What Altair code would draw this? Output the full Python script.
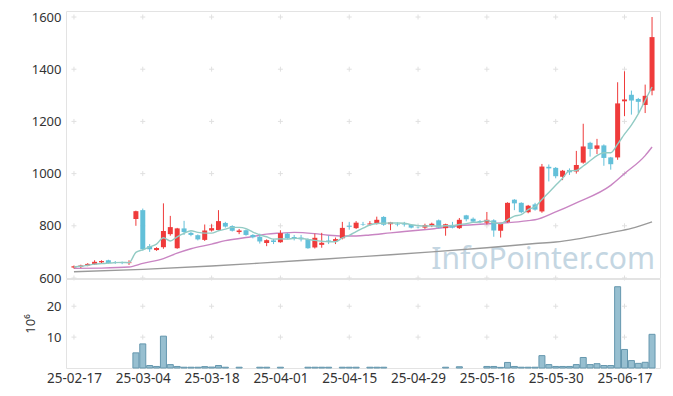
import json
import altair as alt
import pandas as pd

# ---- data ----
dates = [
    "2025-02-17", "2025-02-18", "2025-02-19", "2025-02-20", "2025-02-21",
    "2025-02-24", "2025-02-25", "2025-02-26", "2025-02-27", "2025-02-28",
    "2025-03-04", "2025-03-05", "2025-03-06", "2025-03-07", "2025-03-10",
    "2025-03-11", "2025-03-12", "2025-03-13", "2025-03-14", "2025-03-17",
    "2025-03-18", "2025-03-19", "2025-03-20", "2025-03-21", "2025-03-24",
    "2025-03-25", "2025-03-26", "2025-03-27", "2025-03-28", "2025-03-31",
    "2025-04-01", "2025-04-02", "2025-04-03", "2025-04-04", "2025-04-07",
    "2025-04-08", "2025-04-09", "2025-04-10", "2025-04-11", "2025-04-14",
    "2025-04-15", "2025-04-16", "2025-04-17", "2025-04-18", "2025-04-21",
    "2025-04-22", "2025-04-23", "2025-04-24", "2025-04-25", "2025-04-28",
    "2025-04-29", "2025-04-30", "2025-05-02", "2025-05-07", "2025-05-08",
    "2025-05-09", "2025-05-12", "2025-05-13", "2025-05-14", "2025-05-15",
    "2025-05-16", "2025-05-19", "2025-05-20", "2025-05-21", "2025-05-22",
    "2025-05-23", "2025-05-26", "2025-05-27", "2025-05-28", "2025-05-29",
    "2025-05-30", "2025-06-02", "2025-06-04", "2025-06-05", "2025-06-09",
    "2025-06-10", "2025-06-11", "2025-06-12", "2025-06-13", "2025-06-16",
    "2025-06-17", "2025-06-18", "2025-06-19", "2025-06-20", "2025-06-23",
]
opens = [640, 643, 648, 652, 660, 668, 661, 659, 657, 826,
         860, 722, 707, 718, 768, 714, 790, 773, 764, 746,
         782, 784, 811, 799, 776, 783, 765, 758, 734, 744,
         737, 770, 757, 755, 749, 717, 727, 744, 742, 752,
         800, 791, 806, 805, 810, 834, 806, 806, 806, 803,
         793, 793, 801, 821, 791, 803, 791, 840, 827, 818,
         812, 821, 781, 815, 900, 888, 852, 882, 855, 1026,
         1022, 988, 1014, 1008, 1042, 1118, 1095, 1108, 1062, 1062,
         1277, 1302, 1286, 1263, 1318]
highs = [648, 651, 657, 668, 668, 670, 665, 663, 668, 858,
         866, 730, 718, 886, 838, 792, 819, 778, 767, 805,
         806, 860, 815, 802, 788, 786, 768, 770, 748, 750,
         783, 773, 765, 765, 752, 770, 773, 762, 755, 815,
         815, 818, 815, 818, 835, 837, 815, 813, 815, 806,
         797, 808, 812, 824, 808, 815, 830, 842, 832, 822,
         853, 825, 808, 890, 902, 890, 880, 888, 1037, 1035,
         1025, 1014, 1020, 1087, 1191, 1122, 1133, 1112, 1064, 1350,
         1392, 1318, 1290, 1341, 1600]
lows = [636, 638, 645, 650, 657, 655, 654, 653, 650, 800,
        705, 700, 704, 712, 762, 712, 765, 760, 744, 742,
        778, 780, 793, 778, 768, 762, 752, 732, 722, 730,
        735, 748, 744, 740, 712, 713, 716, 730, 730, 748,
        785, 788, 800, 800, 805, 800, 783, 798, 797, 790,
        790, 788, 795, 790, 762, 790, 788, 817, 812, 810,
        805, 758, 755, 812, 860, 848, 848, 858, 850, 970,
        982, 975, 995, 1000, 1038, 1065, 1075, 1030, 1015, 1053,
        1220, 1226, 1232, 1232, 1300]
closes = [645, 648, 654, 662, 665, 657, 658, 657, 660, 856,
          710, 710, 715, 780, 795, 790, 776, 765, 748, 782,
          791, 818, 797, 781, 782, 765, 756, 740, 745, 738,
          772, 752, 752, 748, 714, 754, 735, 742, 749, 792,
          796, 812, 804, 809, 823, 804, 813, 804, 804, 793,
          792, 803, 808, 793, 806, 793, 823, 825, 816, 814,
          823, 782, 807, 888, 886, 852, 877, 862, 1027, 1020,
          990, 1011, 1005, 1033, 1104, 1094, 1108, 1060, 1036, 1269,
          1284, 1280, 1275, 1298, 1523]
volumes = [0, 0, 0, 0, 0, 0, 0, 0, 0, 4.9,
           7.8, 0.8, 0.5, 10.3, 1.1, 0.5, 0.25, 0.25, 0.25, 0.45,
           0.3, 0.8, 0.25, 0, 0.25, 0, 0, 0.25, 0.25, 0,
           0.25, 0, 0, 0, 0.25, 0.25, 0.25, 0.25, 0, 0.25,
           0.25, 0.25, 0, 0.25, 0.25, 0.25, 0, 0, 0, 0,
           0, 0, 0, 0, 0.25, 0, 0.4, 0, 0, 0,
           0.5, 0.5, 0.2, 1.8, 0.5, 0.25, 0.25, 0.25, 4.0, 1.1,
           0.5, 0.5, 0.5, 1.1, 3.4, 1.1, 1.4, 0.8, 0.8, 26.3,
           6.0, 2.4, 1.5, 1.85, 10.9]
ma5 = [642, 645, 649, 653, 655, 657, 659, 660, 659, 698,
       708, 719, 730, 754, 742, 758, 771, 781, 775, 772,
       772, 781, 787, 794, 794, 789, 776, 765, 758, 749,
       750, 749, 752, 752, 748, 744, 741, 739, 739, 754,
       763, 778, 791, 803, 809, 810, 811, 811, 810, 804,
       801, 799, 800, 798, 800, 801, 805, 808, 813, 814,
       820, 812, 808, 823, 837, 843, 862, 873, 901, 928,
       955, 982, 1011, 1012, 1029, 1049, 1069, 1080, 1080, 1113,
       1151, 1186, 1229, 1281, 1332]
ma20_idx = [0, 4, 8, 10, 13, 15, 17, 20, 22, 25, 27, 28, 30, 32, 35, 37, 39,
            41, 43, 46, 48, 52, 56, 61, 64, 66, 67, 70, 73, 78, 80, 83, 84]
ma20_val = [637, 638, 642, 656, 674, 695, 712, 730, 743, 755, 764, 768, 772,
            775, 770, 764, 761, 761, 765, 773, 778, 788, 800, 809, 814, 820,
            823, 853, 888, 955, 1000, 1069, 1102]
malong_idx = [0, 10, 20, 27, 33, 40, 46, 52, 60, 67, 70, 73, 78, 81, 84]
malong_val = [624, 633, 646, 657, 667, 679, 689, 700, 716, 732, 738, 749,
              774, 790, 815]
x_tick_idx = [0, 10, 20, 30, 40, 50, 60, 70, 80]
price_ticks = [600, 800, 1000, 1200, 1400, 1600]
vol_ticks = [10, 20]

# ---- styling ----
RED = "#ef3b3b"
BLUE = "#63c0d9"
GRID = "#e0e0e0"
FONT = "Noto Sans"
W, H_TOP, H_VOL = 594, 267, 89

df = pd.DataFrame({"i": list(range(len(dates))), "date": dates, "o": opens,
                   "h": highs, "l": lows, "c": closes, "v": volumes})
ma5_df = pd.DataFrame({"i": list(range(len(ma5))), "m": ma5})
ma20_df = pd.DataFrame({"i": ma20_idx, "m": ma20_val})
malong_df = pd.DataFrame({"i": malong_idx, "m": malong_val})

labels = [d[2:] for d in dates]
label_expr = json.dumps(labels) + "[datum.value]"

xscale = alt.Scale(domain=[-0.43, 84.43], nice=False, zero=False)
pscale = alt.Scale(domain=[600, 1623], nice=False, zero=False)
vscale = alt.Scale(domain=[0, 28.8], nice=False, zero=True)

cross_shape = "M-1,0L1,0M0,-1L0,1"

color_cond = alt.condition("datum.c >= datum.o", alt.value(RED), alt.value(BLUE))

price_axis = alt.Axis(values=price_ticks, format="d", title=None, grid=False, ticks=False,
                      domain=False, labelPadding=5)

top_cross = alt.Chart(pd.DataFrame([{"i": a, "p": b} for a in x_tick_idx for b in price_ticks])).mark_point(
    shape=cross_shape, filled=False, size=25, stroke=GRID, strokeWidth=1, opacity=1
).encode(
    x=alt.X("i:Q", scale=xscale, axis=None),
    y=alt.Y("p:Q", scale=pscale, axis=price_axis),
)

watermark = alt.Chart(pd.DataFrame({"t": ["InfoPointer.com"]})).mark_text(
    align="right", baseline="alphabetic", fontSize=30, font=FONT, color="#c4d6e2"
).encode(text="t:N", x=alt.value(589), y=alt.value(258))

wicks = alt.Chart(df).mark_rule(strokeWidth=1).encode(
    x=alt.X("i:Q", scale=xscale, axis=None),
    y=alt.Y("l:Q", scale=pscale, axis=price_axis),
    y2="h:Q",
    color=color_cond,
)
bodies = alt.Chart(df).mark_bar(size=5).encode(
    x=alt.X("i:Q", scale=xscale, axis=None),
    y=alt.Y("o:Q", scale=pscale, axis=price_axis),
    y2="c:Q",
    color=color_cond,
)

def ma_line(d, col):
    return alt.Chart(d).mark_line(strokeWidth=1.4, color=col, interpolate="monotone").encode(
        x=alt.X("i:Q", scale=xscale, axis=None),
        y=alt.Y("m:Q", scale=pscale, axis=price_axis),
    )

top = alt.layer(
    top_cross, watermark, ma_line(malong_df, "#9a9a9a"), ma_line(ma20_df, "#c985c3"),
    wicks, bodies, ma_line(ma5_df, "#92cbc4"),
).properties(width=W, height=H_TOP)

x_axis = alt.Axis(values=x_tick_idx, labelExpr=label_expr, title=None, grid=False,
                  ticks=False, domain=False, labelPadding=3, labelFontSize=13.5)
vol_axis = alt.Axis(values=vol_ticks, title="10⁶", grid=False, ticks=False, domain=False,
                    labelPadding=5, titleFontWeight="normal", titleFontSize=13,
                    titlePadding=9)

vol_cross = alt.Chart(pd.DataFrame([{"i": a, "p": b} for a in x_tick_idx for b in vol_ticks])).mark_point(
    shape=cross_shape, filled=False, size=25, stroke=GRID, strokeWidth=1, opacity=1
).encode(
    x=alt.X("i:Q", scale=xscale, axis=x_axis),
    y=alt.Y("p:Q", scale=vscale, axis=vol_axis),
)
vol_bars = alt.Chart(df).transform_filter("datum.v > 0").mark_bar(
    size=6, fill="#97bfd0", stroke="#6597ae", strokeWidth=1
).encode(
    x=alt.X("i:Q", scale=xscale, axis=x_axis),
    y=alt.Y("v:Q", scale=vscale, axis=vol_axis),
)
bottom = alt.layer(vol_cross, vol_bars).properties(width=W, height=H_VOL)

chart = alt.vconcat(top, bottom, spacing=1, bounds="flush").properties(
    padding={"left": 15, "top": 2, "right": 2, "bottom": 2}
).configure_view(stroke="#e3e3e3").configure_axis(
    labelFont=FONT, titleFont=FONT, labelColor="#333333", titleColor="#333333",
    labelFontSize=13,
)

chart.save("out.html", embed_options={"renderer": "svg", "actions": False})
